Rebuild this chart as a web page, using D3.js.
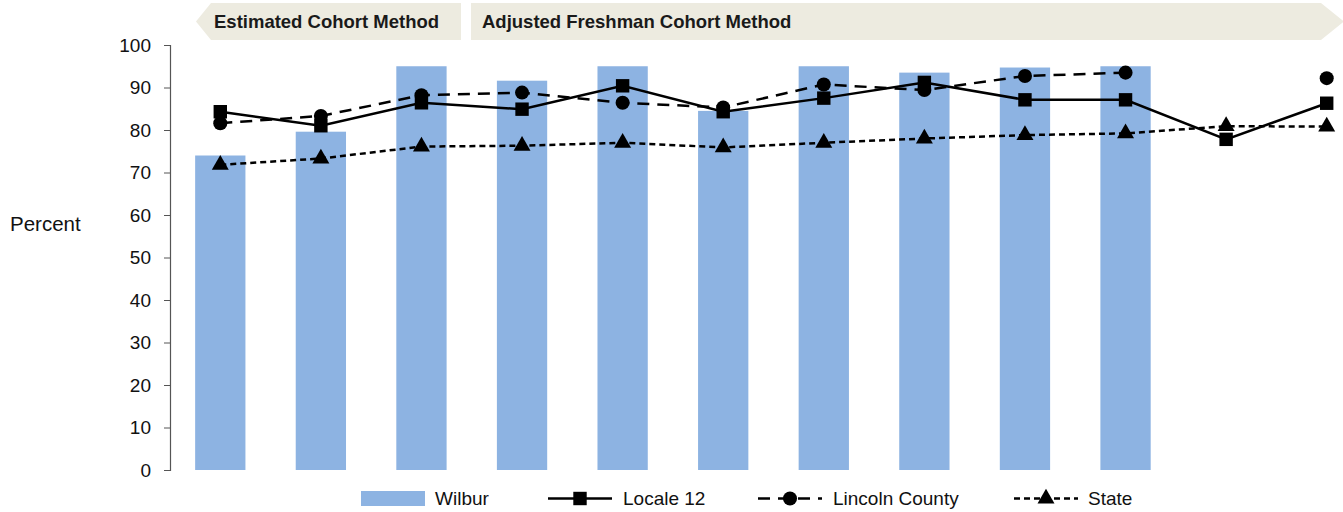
<!DOCTYPE html>
<html><head><meta charset="utf-8">
<script src="https://cdn.jsdelivr.net/npm/d3@7"></script>
<style>body{margin:0;background:#fff}svg{display:block}text{font-family:"Liberation Sans",Arial,sans-serif}</style>
</head><body><svg id="c" width="1343" height="512"></svg>
<script>
const categories = ["1","2","3","4","5","6","7","8","9","10","11","12"];
const wilbur   = [74.0, 79.6, 95.0, 91.6, 95.0, 84.5, 95.0, 93.5, 94.7, 95.0, null, null];
const locale12 = [84.3, 81.0, 86.4, 84.9, 90.4, 84.3, 87.5, 91.2, 87.1, 87.1, 77.8, 86.3];
const lincoln  = [81.6, 83.3, 88.2, 88.8, 86.4, 85.3, 90.7, 89.4, 92.7, 93.5, null, 92.2];
const state    = [71.8, 73.3, 76.1, 76.3, 77.0, 75.9, 77.0, 78.0, 78.8, 79.2, 80.9, 80.8];
const yTicks = [0,10,20,30,40,50,60,70,80,90,100];
const banners = ["Estimated Cohort Method", "Adjusted Freshman Cohort Method"];
const legendLabels = ["Wilbur", "Locale 12", "Lincoln County", "State"];

const svg = d3.select("#c");
const x = d3.scaleBand().domain(categories).range([170, 1377]).paddingInner(0.5).paddingOuter(0.25);
const y = d3.scaleLinear().domain([0, 100]).range([470, 45]);
const cx = c => x(c) + x.bandwidth()/2;

// banners
const bg = "#edebe0";
svg.append("polygon").attr("points", "196,21.5 211,3 461,3 461,40 211,40").attr("fill", bg);
svg.append("polygon").attr("points", "471,3 1321,3 1344,21.5 1321,40 471,40").attr("fill", bg);
svg.append("text").attr("x", 214).attr("y", 27.5).attr("font-weight", "bold").attr("font-size", 18.5)
  .attr("fill", "#1a1a1a").text(banners[0]);
svg.append("text").attr("x", 482).attr("y", 27.5).attr("font-weight", "bold").attr("font-size", 18.5)
  .attr("fill", "#1a1a1a").text(banners[1]);

// bars
svg.append("g").selectAll("rect").data(categories.map((c,i)=>({c, v: wilbur[i]})).filter(d=>d.v!=null))
  .join("rect").attr("x", d=>x(d.c)).attr("width", x.bandwidth())
  .attr("y", d=>y(d.v)).attr("height", d=>y(0)-y(d.v)).attr("fill", "#8db3e2");

// y axis
const ax = svg.append("g").attr("transform", "translate(170,0)")
  .call(d3.axisLeft(y).tickValues(yTicks).tickSize(6).tickPadding(13));
ax.select(".domain").attr("stroke", "#555").attr("stroke-width", 1.2);
ax.selectAll(".tick line").attr("stroke", "#555");
ax.selectAll(".tick text").attr("font-size", 19).attr("fill", "#111").attr("font-family", "Liberation Sans, Arial, sans-serif");
svg.append("text").attr("x", 10).attr("y", 231).attr("font-size", 20.5).attr("fill", "#111").text("Percent");

// lines
function series(vals, dash, marker, size) {
  const pts = categories.map((c,i)=>({c, v: vals[i]}));
  const line = d3.line().defined(d=>d.v!=null).x(d=>cx(d.c)).y(d=>y(d.v));
  svg.append("path").datum(pts).attr("d", line).attr("fill", "none").attr("stroke", "#000")
    .attr("stroke-width", 2.5).attr("stroke-dasharray", dash);
  svg.append("g").selectAll("path").data(pts.filter(d=>d.v!=null)).join("path")
    .attr("d", d3.symbol().type(marker).size(size)())
    .attr("transform", d=>`translate(${cx(d.c)},${y(d.v)})`).attr("fill", "#000");
}
series(locale12, null, d3.symbolSquare, 180);
series(lincoln, "12,8", d3.symbolCircle, 155);
series(state, "6,4", d3.symbolTriangle, 125);

// legend
const lg = svg.append("g");
lg.append("rect").attr("x", 361).attr("y", 491).attr("width", 64).attr("height", 15).attr("fill", "#8db3e2");
lg.append("text").attr("x", 435).attr("y", 505).attr("font-size", 19).attr("fill", "#111").text(legendLabels[0]);
const legItems = [
  {x0: 548, dash: null, m: d3.symbolSquare, s: 180, tx: 623, label: legendLabels[1]},
  {x0: 758, dash: "12,8", m: d3.symbolCircle, s: 155, tx: 833, label: legendLabels[2]},
  {x0: 1014, dash: "6,4", m: d3.symbolTriangle, s: 125, tx: 1088, label: legendLabels[3]}
];
legItems.forEach(it => {
  lg.append("line").attr("x1", it.x0).attr("x2", it.x0+64).attr("y1", 498.5).attr("y2", 498.5)
    .attr("stroke", "#000").attr("stroke-width", 2.5).attr("stroke-dasharray", it.dash);
  lg.append("path").attr("d", d3.symbol().type(it.m).size(it.s)()).attr("transform", `translate(${it.x0+32},498.5)`);
  lg.append("text").attr("x", it.tx).attr("y", 505).attr("font-size", 19).attr("fill", "#111").text(it.label);
});
</script></body></html>
